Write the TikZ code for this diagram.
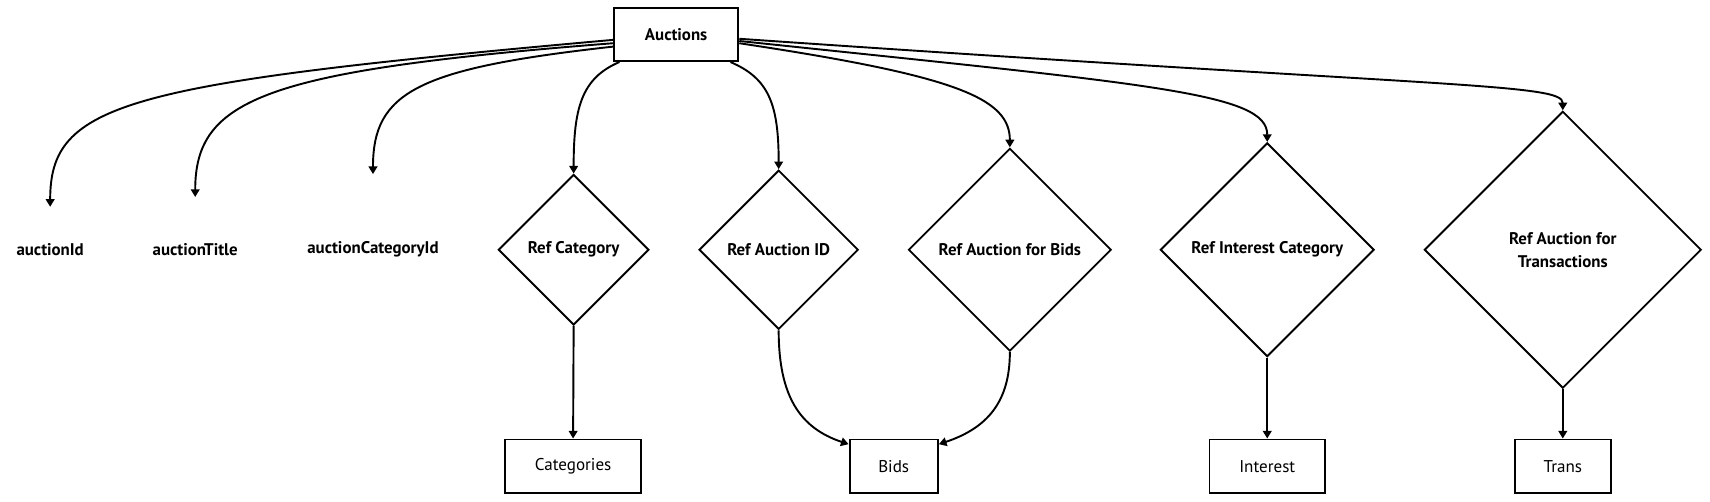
\documentclass[tikz,border=0pt]{standalone}
\usepackage{fontspec}
\setmainfont{PT Sans}
\usetikzlibrary{shapes.geometric,arrows.meta}
\tikzset{
  entity/.style={draw,line width=1pt,inner sep=0pt,minimum height=0.98cm},
  attr/.style={inner sep=0pt,font=\fontsize{8.8}{10.5}\selectfont\bfseries},
  rel/.style={draw,diamond,aspect=1,line width=1pt,inner sep=0pt,align=center,font=\fontsize{8.8}{12}\selectfont\bfseries},
  link/.style={line width=1pt,-{Triangle[length=4pt,width=4.5pt]},color=black},
}
\begin{document}
\begin{tikzpicture}[x=0.02cm,y=-0.02cm,font=\fontsize{8.9}{10.5}\selectfont]
      \useasboundingbox (0,0) rectangle (1568,460);
      \node[entity,minimum width=2.28cm,font=\fontsize{8.8}{10.5}\selectfont\bfseries] (auc) at (620,31.5) {Auctions};
      \node[attr,minimum height=1.56cm] (aid) at (46,229) {auctionId};
      \node[attr,minimum height=1.92cm] (atitle) at (179,229) {auctionTitle};
      \node[attr,minimum height=2.76cm] (acat) at (342,229) {auctionCategoryId};
      \node[rel,minimum size=2.76cm] (rcat) at (526,229) {Ref Category};
      \node[rel,minimum size=2.92cm] (raid) at (714,229) {Ref Auction ID};
      \node[rel,minimum size=3.72cm] (rbids) at (926,229) {Ref Auction for Bids};
      \node[rel,minimum size=3.92cm] (rint) at (1162,229) {Ref Interest Category};
      \node[rel,minimum size=5.08cm] (rtrans) at (1433,229) {Ref Auction for\\ Transactions};
      \node[entity,minimum width=2.5cm] (cat) at (525.5,427.5) {Categories};
      \node[entity,minimum width=1.62cm] (bids) at (819.5,427.5) {Bids};
      \node[entity,minimum width=2.12cm] (int) at (1162,427.5) {Interest};
      \node[entity,minimum width=1.76cm] (trans) at (1433,427.5) {Trans};
      \begin{scope}[link]
        \draw (auc.185) .. controls +(-450,40) and +(0,-95) .. (aid.north);
        \draw (auc.188) .. controls +(-320,25) and +(0,-90) .. (atitle.north);
        \draw (auc.191) .. controls +(-180,20) and +(0,-75) .. (acat.north);
        \draw (auc.206) .. controls +(-35,15) and +(0,-60) .. (rcat.north);
        \draw (auc.333) .. controls +(35,15) and +(0,-60) .. (raid.north);
        \draw (auc.352) .. controls +(200,30) and +(0,-45) .. (rbids.north);
        \draw (auc.354) .. controls +(380,40) and +(0,-45) .. (rint.north);
        \draw (auc.356) .. controls +(650,45) and +(0,-25) .. (rtrans.north);
        \draw (rcat.south) to (cat.north);
        \draw (raid.south) .. controls +(0,60) and +(-45,-15) .. (bids.154);
        \draw (rbids.south) .. controls +(0,45) and +(45,-15) .. (bids.26);
        \draw (rint.south) to (int.north);
        \draw (rtrans.south) to (trans.north);
      \end{scope}
    \end{tikzpicture}
\end{document}
